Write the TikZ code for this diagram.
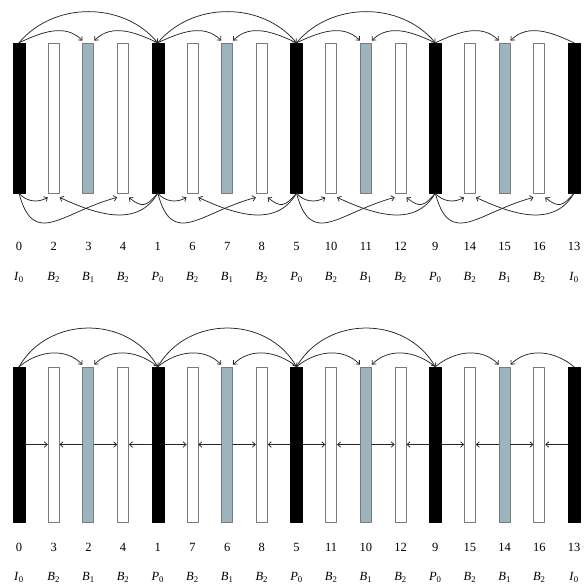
\documentclass[tikz,border=0pt]{standalone}
\usepackage{fontspec}
\setmainfont{Liberation Serif}
\usetikzlibrary{arrows.meta,positioning}
\definecolor{gopSteel}{HTML}{9BB4BE}
\definecolor{gopEdge}{HTML}{7A7A7A}
\definecolor{gopInk}{HTML}{262626}

\begin{document}
\begin{tikzpicture}[x=1pt, y=1pt, >={Straight Barb[length=3pt,width=5.5pt]},
    line cap=round, line join=round, font=\fontsize{12.5}{14}\selectfont,
    frameI/.style={draw=black, fill=black, minimum width=12pt, inner sep=0pt},
    frameB1/.style={draw=gopEdge, fill=gopSteel, line width=0.8pt, minimum width=11pt, inner sep=0pt},
    frameB2/.style={draw=gopEdge, fill=white, line width=0.8pt, minimum width=11pt, inner sep=0pt},
    pred/.style={->, gopInk, line width=0.75pt},
    lab/.style={anchor=base, inner sep=0pt}]
    \useasboundingbox (0,0) rectangle (584,584);

    % ── frames: t = upper order, b = lower order ───────────────────────────
    \foreach \d/\yc/\h in {t/466/150, b/139.5/155} {
      \foreach \i in {0,4,8,12,16}
        \node[frameI, minimum height=\h pt] (\d\i) at ({19+34.69*\i},\yc) {};
      \foreach \i in {2,6,10,14}
        \node[frameB1, minimum height=\h pt] (\d\i) at ({19+34.69*\i},\yc) {};
      \foreach \i in {1,3,5,7,9,11,13,15}
        \node[frameB2, minimum height=\h pt] (\d\i) at ({19+34.69*\i},\yc) {};
    }

    % ── coding order and frame types ───────────────────────────────────────
    \foreach \i/\n in {0/0,1/2,2/3,3/4,4/1,5/6,6/7,7/8,8/5,9/10,10/11,11/12,
                       12/9,13/14,14/15,15/16,16/13}
      \node[lab] (tn\i) at ({19+34.69*\i},333) {\n};
    \foreach \i/\n in {0/0,1/3,2/2,3/4,4/1,5/7,6/6,7/8,8/5,9/11,10/10,11/12,
                       12/9,13/15,14/14,15/16,16/13}
      \node[lab] (bn\i) at ({19+34.69*\i},32) {\n};
    \foreach \i/\f/\s in {0/I/0,1/B/2,2/B/1,3/B/2,4/P/0,5/B/2,6/B/1,7/B/2,8/P/0,
                          9/B/2,10/B/1,11/B/2,12/P/0,13/B/2,14/B/1,15/B/2,16/I/0} {
      \node[lab] (tl\i) at ({19+34.69*\i},303.5) {\textit{\f}\textsubscript{\s}};
      \node[lab] (bl\i) at ({19+34.69*\i},3.5) {\textit{\f}\textsubscript{\s}};
    }

    % ── references, upper order: B1 from above, B2 from below ──────────────
    \foreach \a/\b/\c/\dd/\e in {0/1/2/3/4, 4/5/6/7/8, 8/9/10/11/12, 12/13/14/15/16} {
      \draw[pred] (t\a.north) to[out=25,in=135] ([yshift=2pt]t\c.north west);
      \draw[pred] (t\e.north) to[out=155,in=45] ([yshift=2pt]t\c.north east);
      \draw[pred] (t\a.south) to[out=-50,in=-150] ([yshift=-4pt]t\b.south west);
      \draw[pred] (t\a.south) to[out=-75,in=-165,looseness=1.5] ([yshift=-4pt]t\dd.south west);
      \draw[pred] (t\e.south) to[out=-120,in=-25,looseness=1.05] ([yshift=-4pt]t\b.south east);
      \draw[pred] (t\e.south) to[out=-130,in=-40,looseness=1.5] ([yshift=-4pt]t\dd.south east);
    }
    \foreach \a/\e in {0/4, 4/8, 8/12}
      \draw[pred] (t\a.north) to[out=50,in=130] (t\e.north);

    % ── references, lower order: B2 from its neighbours ────────────────────
    \foreach \a/\b/\c/\dd/\e in {0/1/2/3/4, 4/5/6/7/8, 8/9/10/11/12, 12/13/14/15/16} {
      \draw[pred] (b\a.north) to[out=40,in=135] ([yshift=2pt]b\c.north west);
      \draw[pred] (b\e.north) to[out=140,in=45] ([yshift=2pt]b\c.north east);
      \draw[pred] (b\a.east) -- (b\b.west);
      \draw[pred] (b\c.west) -- (b\b.east);
      \draw[pred] (b\c.east) -- (b\dd.west);
      \draw[pred] (b\e.west) -- (b\dd.east);
    }
    \foreach \a/\e in {0/4, 4/8, 8/12}
      \draw[pred] (b\a.north) to[out=60,in=120,looseness=1.1] (b\e.north);
\end{tikzpicture}
\end{document}
